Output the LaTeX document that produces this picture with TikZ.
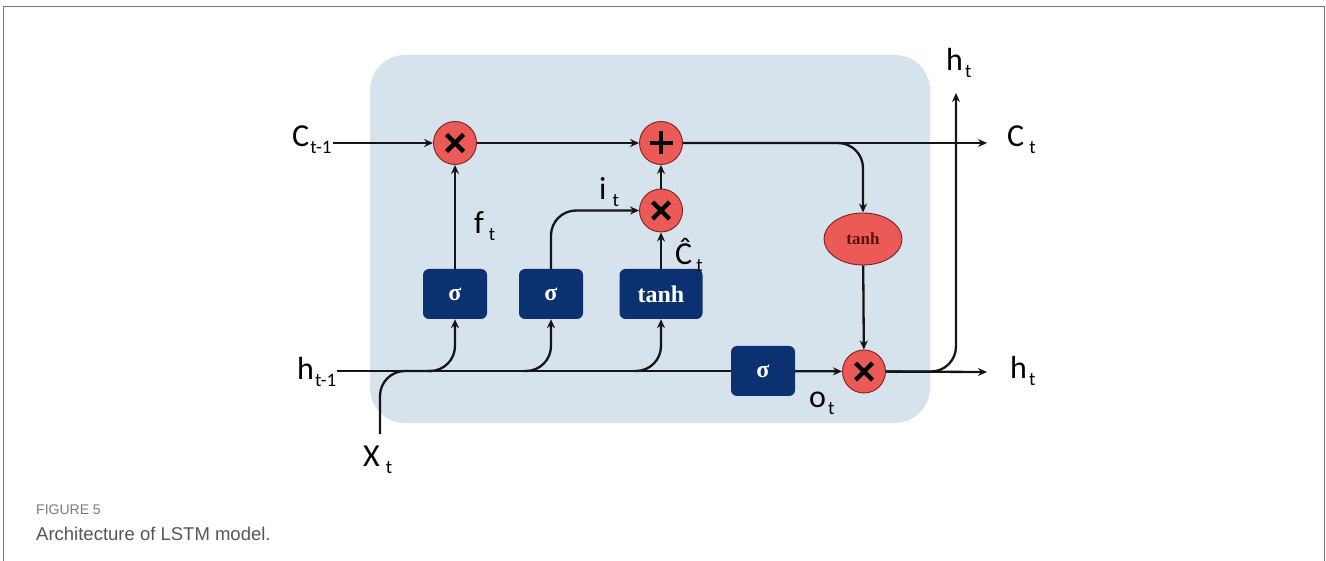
\documentclass[tikz,border=0pt]{standalone}
\usepackage{fontspec}
\setmainfont{Carlito}
\newfontfamily\capfont{Liberation Sans}
\newfontfamily\boxfont{Liberation Serif}
\usetikzlibrary{arrows.meta,shapes.geometric}
\definecolor{bgblue}{HTML}{D6E2EC}
\definecolor{navy}{HTML}{0B3170}
\definecolor{redfill}{HTML}{EC5A57}
\definecolor{redline}{HTML}{7A2222}
\definecolor{lineblk}{HTML}{151515}
\definecolor{darkred}{HTML}{5A0F0F}
\definecolor{framegray}{HTML}{777777}
\definecolor{figgray}{HTML}{7A7A7A}
\definecolor{capgray}{HTML}{555555}
\newcommand{\lbl}[3][1pt]{#2\kern#1\raisebox{-7pt}{\fontsize{19}{19}\selectfont #3}}
\begin{document}
\begin{tikzpicture}[x=1pt,y=-1pt,
  conn/.style={line width=2.3pt, draw=lineblk},
  arr/.style={conn, -{Stealth[length=9pt,width=8pt]}},
  op/.style={circle, fill=redfill, draw=redline, line width=0.9pt, minimum size=43pt, inner sep=0pt},
  gate/.style={rectangle, rounded corners=6pt, fill=navy, minimum height=50pt, text=white, font=\boxfont\bfseries\fontsize{24}{24}\selectfont, inner sep=0pt},
  sym/.style={line width=4.5pt, draw=black},
  lab/.style={font=\fontsize{32}{32}\selectfont, inner sep=1pt, text=black},
]
\useasboundingbox (0,0) rectangle (1326,561);
\draw[framegray, line width=1.5pt] (3.5,561) -- (3.5,6.5) -- (1324.5,6.5) -- (1324.5,561);
\fill[bgblue, rounded corners=35pt] (370,55) rectangle (930,423);

% operators
\node[op] (m1) at (455,143) {};
\node[op] (pl) at (661,143) {};
\node[op] (m2) at (661,210.5) {};
\node[op] (m3) at (864,371.5) {};
\node[ellipse, fill=redfill, draw=redline, line width=0.9pt, minimum width=78pt, minimum height=52pt, inner sep=0pt, font=\boxfont\bfseries\fontsize{17}{17}\selectfont, text=darkred] (th) at (863,239) {tanh};

% gates
\node[gate, minimum width=64pt] (s1) at (455,294) {σ};
\node[gate, minimum width=64pt] (s2) at (551,294) {σ};
\node[gate, minimum width=83pt] (tb) at (661,294) {tanh};
\node[gate, minimum width=64pt] (s4) at (763,371) {σ};

% symbols
\foreach \n in {m1,m2,m3}
  \draw[sym] ([shift={(-8.5,-8.5)}]\n.center) -- ([shift={(8.5,8.5)}]\n.center)
             ([shift={(-8.5,8.5)}]\n.center) -- ([shift={(8.5,-8.5)}]\n.center);
\draw[sym] ([shift={(-11.5,0)}]pl.center) -- ([shift={(11.5,0)}]pl.center)
           ([shift={(0,-11.5)}]pl.center) -- ([shift={(0,11.5)}]pl.center);

% labels
\node[lab, anchor=base west] (cprev) at (291,147) {\lbl{C}{t-1}};
\node[lab, anchor=base west] (hprev) at (296,380) {\lbl{h}{t-1}};
\node[lab, anchor=base west] (xt) at (362,466) {\lbl[6pt]{X}{t}};
\node[lab, anchor=base west] (ft) at (473,234) {\lbl[5pt]{f}{t}};
\node[lab, anchor=base west] (it) at (598,200) {\lbl[6pt]{i}{t}};
\node[lab, anchor=base west] (chat) at (674,265) {\lbl[4pt]{Ĉ}{t}};
\node[lab, anchor=base west] (ot) at (808,407) {\lbl[2pt]{o}{t}};
\node[lab, anchor=base west] (ct) at (1006,147) {\lbl[5pt]{C}{t}};
\node[lab, anchor=base west] (ht) at (1009,379) {\lbl[2pt]{h}{t}};
\node[lab, anchor=base west] (htop) at (945,71) {\lbl[2pt]{h}{t}};

% coordinates
\coordinate (ctend) at (987,143);
\coordinate (htend) at (987,372);
\coordinate (hup) at (956,93);
\coordinate (xbot) at (380,434);
\coordinate (xjoin) at (432,371);
\coordinate (b1) at (428,371);
\coordinate (b2) at (524,371);
\coordinate (b3) at (634,371);

% connectors
\draw[arr] (cprev.east |- m1) -- (m1);
\draw[arr] (m1) -- (pl);
\draw[arr] (pl) -- (ctend);
\draw[arr, rounded corners=25pt] (pl.east) -| (th.north);
\draw[arr] (th) -- (m3);
\draw[arr] (m3) -- (htend);
\draw[arr, rounded corners=25pt] (m3.east) -| (hup);
\draw[conn] (hprev.east |- s4) -- (s4.west);
\draw[arr] (s4) -- (m3);
\draw[conn, rounded corners=25pt] (xbot) |- (xjoin);
\draw[arr, rounded corners=25pt] (b1) -| (s1.south);
\draw[arr, rounded corners=25pt] (b2) -| (s2.south);
\draw[arr, rounded corners=25pt] (b3) -| (tb.south);
\draw[arr] (s1) -- (m1);
\draw[arr, rounded corners=25pt] (s2.north) |- (m2.west);
\draw[arr] (tb) -- (m2);
\draw[arr] (m2) -- (pl);

% caption
\node[anchor=base west, inner sep=0pt, font=\capfont\fontsize{14}{14}\selectfont, text=figgray] (fig) at (36,514) {FIGURE 5};
\node[anchor=base west, inner sep=0pt, font=\capfont\fontsize{18.5}{18.5}\selectfont, text=capgray] (cap) at (36,540) {Architecture of LSTM model.};
\end{tikzpicture}
\end{document}
